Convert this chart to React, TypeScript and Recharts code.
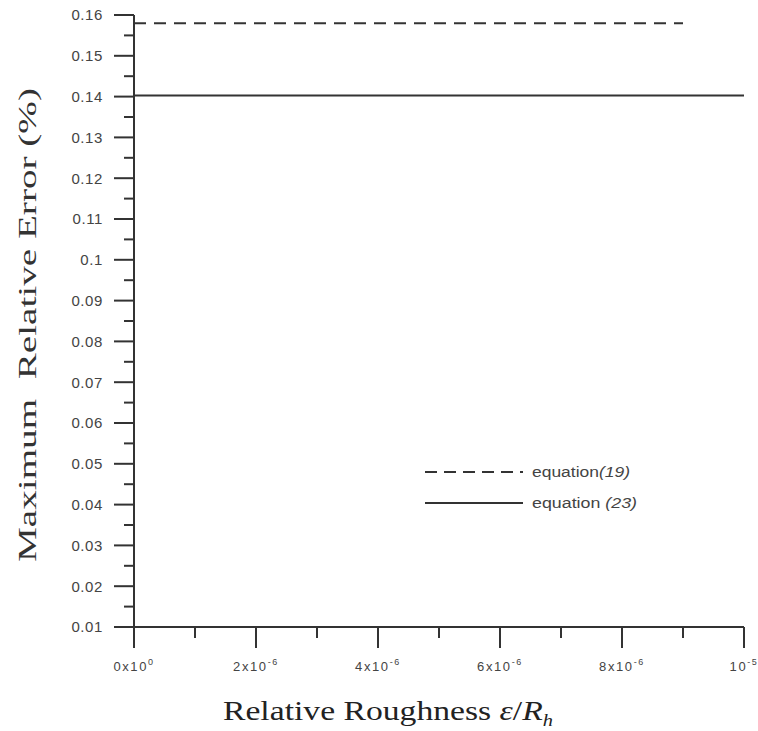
import React from "react";
import { LineChart, Line, XAxis, YAxis, Legend } from "recharts";

// equation (19): dashed, stops short of the right edge
const eq19X = [0, 0.000009];
const eq19Y = [0.158, 0.158];
// equation (23): solid, full width
const eq23X = [0, 0.00001];
const eq23Y = [0.1403, 0.1403];

const yMajorTicks = [0.01, 0.02, 0.03, 0.04, 0.05, 0.06, 0.07, 0.08, 0.09, 0.1, 0.11, 0.12, 0.13, 0.14, 0.15, 0.16];
const yMinorTicks = [0.015, 0.025, 0.035, 0.045, 0.055, 0.065, 0.075, 0.085, 0.095, 0.105, 0.115, 0.125, 0.135, 0.145, 0.155];
const xMajorTicks = [0, 0.000002, 0.000004, 0.000006, 0.000008, 0.00001];
const xMinorTicks = [0.000001, 0.000003, 0.000005, 0.000007, 0.000009];
const xTickBases = ["0x10", "2x10", "4x10", "6x10", "8x10", "10"];
const xTickExps = ["0", "-6", "-6", "-6", "-6", "-5"];

const INK = "#333";
const SANS = "'Liberation Sans', Arial, sans-serif";
const SERIF = "'Liberation Serif', 'Times New Roman', serif";

const eq19Data = eq19X.map((x, i) => ({ x, y: eq19Y[i] }));
const eq23Data = eq23X.map((x, i) => ({ x, y: eq23Y[i] }));

const isMajor = (list: number[], v: number) => list.findIndex((t) => Math.abs(t - v) < 1e-12);

function YTick(props: any) {
  const { x, y, payload } = props;
  const idx = isMajor(yMajorTicks, payload.value);
  const major = idx >= 0;
  return (
    <g>
      <line x1={x - (major ? 20 : 10)} x2={x} y1={y} y2={y} stroke={INK} strokeWidth={2} />
      {major && (
        <text
          x={x - 31}
          y={y}
          dy="0.36em"
          textAnchor="end"
          fontFamily={SANS}
          fontSize={15}
          letterSpacing={0.6}
          fill="#444"
        >
          {String(yMajorTicks[idx])}
        </text>
      )}
    </g>
  );
}

function XTick(props: any) {
  const { x, y, payload } = props;
  const idx = isMajor(xMajorTicks, payload.value);
  const major = idx >= 0;
  return (
    <g>
      <line x1={x} x2={x} y1={y} y2={y + (major ? 21 : 11)} stroke={INK} strokeWidth={2} />
      {major && (
        <text
          x={x}
          y={y + 44}
          textAnchor="middle"
          fontFamily={SANS}
          fontSize={13}
          letterSpacing={1.6}
          fill="#444"
        >
          <tspan>{xTickBases[idx]}</tspan>
          <tspan dy={-6} fontSize={9}>{xTickExps[idx]}</tspan>
        </text>
      )}
    </g>
  );
}

function renderLegend() {
  return (
    <svg width={240} height={50} style={{ display: "block" }}>
      <line x1={5} x2={103} y1={10} y2={10} stroke={INK} strokeWidth={2} strokeDasharray="12 7" />
      <text
        x={112}
        y={10}
        dy="0.35em"
        fontFamily={SANS}
        fontSize={14}
        fill="#444"
        textLength={98}
        lengthAdjust="spacingAndGlyphs"
      >
        equation<tspan fontStyle="italic">(19)</tspan>
      </text>
      <line x1={5} x2={103} y1={41} y2={41} stroke={INK} strokeWidth={2} />
      <text
        x={112}
        y={41}
        dy="0.35em"
        fontFamily={SANS}
        fontSize={14}
        fill="#444"
        textLength={105}
        lengthAdjust="spacingAndGlyphs"
        style={{ whiteSpace: "pre" }}
      >
        equation <tspan fontStyle="italic">(23)</tspan>
      </text>
    </svg>
  );
}

export default function App() {
  return (
    <div style={{ position: "absolute", left: 0, top: 0, background: "#fff" }}>
      <LineChart width={758} height={731} margin={{ top: 15, right: 14, bottom: 0, left: 0 }}>
        <XAxis
          dataKey="x"
          type="number"
          domain={[0, 0.00001]}
          ticks={[...xMajorTicks, ...xMinorTicks].sort((a, b) => a - b)}
          interval={0}
          height={104}
          tickSize={0}
          tickMargin={0}
          tickLine={false}
          tick={<XTick />}
          axisLine={{ stroke: INK, strokeWidth: 2 }}
          allowDataOverflow
          label={{
            content: (p: any) => {
              const vb = p.viewBox;
              return (
                <text
                  x={vb.x + 89}
                  y={vb.y + 93}
                  fontFamily={SERIF}
                  fontSize={28}
                  fill="#222"
                  textLength={330}
                  lengthAdjust="spacingAndGlyphs"
                  style={{ whiteSpace: "pre" }}
                >
                  Relative Roughness <tspan fontStyle="italic">ε</tspan>/<tspan fontStyle="italic">R</tspan>
                  <tspan fontStyle="italic" fontSize={17} dy={6}>h</tspan>
                </text>
              );
            },
          }}
        />
        <YAxis
          type="number"
          domain={[0.01, 0.16]}
          ticks={[...yMajorTicks, ...yMinorTicks].sort((a, b) => a - b)}
          interval={0}
          width={134}
          tickSize={0}
          tickMargin={0}
          tickLine={false}
          tick={<YTick />}
          axisLine={{ stroke: INK, strokeWidth: 2 }}
          allowDataOverflow
          label={{
            content: (p: any) => {
              const vb = p.viewBox;
              const cx = vb.x + 36;
              const cy = vb.y + vb.height / 2 + 4;
              return (
                <text
                  transform={`translate(${cx},${cy}) rotate(-90)`}
                  textAnchor="middle"
                  fontFamily={SERIF}
                  fontSize={25}
                  fill="#333"
                  textLength={474}
                  lengthAdjust="spacingAndGlyphs"
                  style={{ whiteSpace: "pre" }}
                >
                  Maximum  Relative Error (%)
                </text>
              );
            },
          }}
        />
        <Legend
          content={renderLegend}
          layout="horizontal"
          verticalAlign="middle"
          align="center"
          wrapperStyle={{ position: "absolute", left: 420, top: 462, width: 240, height: 50 }}
        />
        <Line
          data={eq19Data}
          dataKey="y"
          stroke={INK}
          strokeWidth={2}
          strokeDasharray="12 8"
          dot={false}
          isAnimationActive={false}
          name="equation(19)"
        />
        <Line
          data={eq23Data}
          dataKey="y"
          stroke={INK}
          strokeWidth={2}
          dot={false}
          isAnimationActive={false}
          name="equation (23)"
        />
      </LineChart>
    </div>
  );
}
